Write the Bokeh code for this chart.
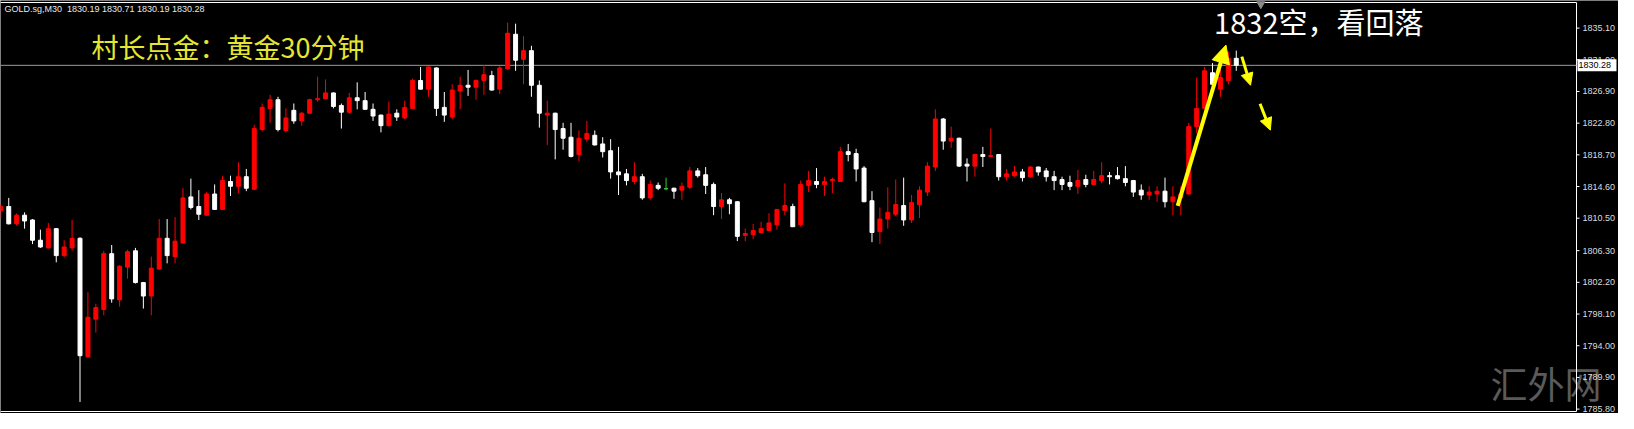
from bokeh.plotting import figure
from bokeh.models import Range1d, Label, Arrow, NormalHead, ColumnDataSource
from bokeh.core.properties import value
from bokeh.embed import file_html
from bokeh.resources import INLINE

# ---------------- data (GOLD.sg M30) ----------------
opens = [
    1811.51, 1812.01, 1809.77, 1810.89, 1810.27, 1807.65, 1806.66, 1809.15, 1805.66, 1806.66,
    1807.90, 1792.58, 1797.44, 1798.69, 1805.91, 1799.93, 1804.17, 1806.28, 1802.17, 1800.43,
    1803.92, 1807.90, 1805.54, 1807.28, 1813.26, 1812.01, 1810.89, 1813.63, 1811.64, 1815.25,
    1814.63, 1815.87, 1814.25, 1821.97, 1824.71, 1825.83, 1821.85, 1824.46, 1823.09, 1824.09,
    1825.83, 1825.96, 1826.71, 1825.09, 1824.22, 1826.08, 1825.71, 1824.59, 1823.84, 1822.47,
    1824.09, 1823.47, 1824.71, 1828.32, 1827.20, 1829.94, 1824.84, 1823.59, 1826.95, 1827.70,
    1827.45, 1828.32, 1828.95, 1827.20, 1829.82, 1834.30, 1831.06, 1832.18, 1827.70, 1823.84,
    1824.09, 1822.10, 1820.98, 1818.74, 1820.73, 1821.23, 1820.11, 1819.23, 1816.49, 1816.24,
    1815.25, 1815.87, 1813.13, 1814.75, 1814.31, 1814.38, 1814.13, 1814.50, 1816.62, 1816.12,
    1814.87, 1812.01, 1812.88, 1812.63, 1808.28, 1808.40, 1808.65, 1808.90, 1809.65, 1811.51,
    1812.01, 1809.65, 1814.75, 1815.25, 1814.87, 1815.37, 1815.25, 1819.11, 1818.86, 1816.99,
    1812.76, 1808.77, 1810.39, 1811.01, 1812.14, 1810.27, 1812.26, 1813.88, 1817.12, 1823.34,
    1820.48, 1820.85, 1817.49, 1817.24, 1818.74, 1818.49, 1818.74, 1815.87, 1816.00, 1816.49,
    1815.87, 1817.12, 1816.62, 1815.87, 1815.50, 1815.12, 1814.63, 1815.50, 1814.87, 1815.37,
    1816.00, 1816.00, 1815.62, 1815.37, 1814.13, 1813.50, 1813.63, 1814.00, 1812.63, 1813.13,
    1813.63, 1822.35, 1824.71, 1829.32, 1827.20, 1828.32, 1831.19,
]
highs = [
    1812.38, 1813.13, 1811.14, 1811.26, 1810.39, 1809.02, 1809.89, 1809.20, 1807.65, 1810.27,
    1808.03, 1800.93, 1799.43, 1806.28, 1807.03, 1804.41, 1806.41, 1806.66, 1802.25, 1805.54,
    1810.39, 1810.39, 1810.64, 1814.38, 1815.62, 1814.13, 1813.88, 1814.87, 1816.00, 1816.00,
    1817.74, 1816.87, 1822.60, 1825.34, 1826.46, 1826.21, 1824.71, 1825.34, 1824.22, 1825.96,
    1828.82, 1828.45, 1826.78, 1825.34, 1826.71, 1828.08, 1826.83, 1825.34, 1823.90, 1825.58,
    1824.59, 1825.71, 1828.57, 1830.07, 1830.15, 1830.00, 1826.83, 1827.83, 1828.82, 1829.69,
    1828.45, 1830.32, 1829.57, 1830.19, 1835.80, 1835.67, 1834.05, 1832.81, 1828.32, 1825.71,
    1824.15, 1822.84, 1822.84, 1821.85, 1823.09, 1821.85, 1820.98, 1820.73, 1819.73, 1816.87,
    1817.74, 1816.24, 1815.37, 1815.12, 1815.75, 1814.45, 1815.12, 1817.12, 1816.99, 1817.12,
    1815.12, 1813.75, 1813.13, 1812.70, 1809.15, 1809.77, 1810.02, 1811.14, 1811.70, 1815.00,
    1812.38, 1815.37, 1816.62, 1816.99, 1815.87, 1815.75, 1819.73, 1820.11, 1819.48, 1817.24,
    1814.00, 1811.89, 1814.50, 1815.50, 1815.75, 1813.50, 1814.63, 1817.74, 1824.59, 1823.47,
    1822.35, 1820.92, 1818.24, 1818.86, 1819.73, 1822.10, 1818.80, 1816.87, 1817.24, 1816.87,
    1817.24, 1817.18, 1816.99, 1816.62, 1815.87, 1816.00, 1816.74, 1816.12, 1816.62, 1817.74,
    1816.49, 1817.12, 1817.24, 1815.45, 1814.87, 1814.63, 1814.63, 1815.75, 1814.63, 1814.63,
    1822.84, 1828.70, 1830.07, 1830.57, 1829.69, 1832.06, 1832.18,
]
lows = [
    1810.52, 1809.70, 1809.52, 1809.15, 1807.15, 1806.66, 1806.60, 1804.79, 1805.41, 1806.28,
    1786.73, 1792.50, 1795.70, 1797.94, 1799.56, 1799.06, 1802.67, 1802.05, 1798.81, 1797.94,
    1803.85, 1804.66, 1804.66, 1807.20, 1811.64, 1810.27, 1810.82, 1811.58, 1811.58, 1813.38,
    1813.75, 1814.00, 1814.20, 1821.72, 1822.84, 1821.72, 1821.60, 1822.72, 1822.47, 1824.02,
    1825.58, 1825.90, 1824.71, 1822.10, 1823.97, 1824.59, 1824.52, 1823.09, 1821.60, 1822.40,
    1823.09, 1823.34, 1824.65, 1827.15, 1826.21, 1823.72, 1822.97, 1823.34, 1824.59, 1826.33,
    1825.83, 1826.46, 1827.00, 1826.58, 1829.75, 1829.57, 1827.83, 1826.21, 1822.22, 1819.98,
    1818.11, 1819.36, 1818.36, 1817.86, 1820.35, 1819.90, 1818.36, 1815.62, 1813.50, 1814.75,
    1814.87, 1812.88, 1812.88, 1814.13, 1814.13, 1813.01, 1812.88, 1814.25, 1815.75, 1813.63,
    1810.89, 1810.39, 1811.01, 1807.53, 1807.53, 1807.78, 1808.52, 1808.85, 1809.02, 1810.89,
    1809.35, 1809.40, 1813.88, 1814.38, 1813.38, 1813.75, 1815.20, 1817.86, 1815.25, 1812.57,
    1807.40, 1807.15, 1809.15, 1810.77, 1809.52, 1809.89, 1810.52, 1813.38, 1816.62, 1819.36,
    1819.61, 1817.12, 1815.25, 1815.87, 1817.12, 1818.44, 1815.37, 1815.37, 1815.87, 1815.25,
    1815.75, 1816.00, 1815.25, 1814.13, 1814.13, 1814.13, 1813.63, 1814.50, 1814.80, 1815.00,
    1814.87, 1815.50, 1814.63, 1813.26, 1812.88, 1812.88, 1812.63, 1811.89, 1810.89, 1810.89,
    1813.55, 1821.47, 1824.65, 1827.45, 1826.21, 1827.83, 1829.57,
]
closes = [
    1812.01, 1809.77, 1810.89, 1810.14, 1807.65, 1806.78, 1809.15, 1805.66, 1806.78, 1807.90,
    1792.71, 1797.69, 1798.94, 1805.91, 1800.06, 1804.29, 1806.16, 1802.17, 1800.43, 1804.04,
    1807.90, 1805.66, 1807.53, 1813.13, 1811.89, 1811.01, 1813.63, 1811.64, 1815.37, 1814.63,
    1815.87, 1814.38, 1822.10, 1824.84, 1825.83, 1821.97, 1823.47, 1823.09, 1824.09, 1825.83,
    1825.96, 1826.71, 1824.96, 1824.22, 1826.08, 1825.71, 1824.59, 1823.72, 1822.47, 1823.97,
    1823.59, 1824.84, 1828.32, 1827.20, 1830.07, 1824.71, 1823.84, 1827.08, 1827.70, 1827.45,
    1828.32, 1829.07, 1827.08, 1829.94, 1834.43, 1830.94, 1832.18, 1827.70, 1824.09, 1824.09,
    1821.97, 1820.85, 1818.49, 1820.85, 1821.47, 1819.98, 1819.11, 1816.49, 1816.12, 1815.37,
    1815.87, 1813.13, 1814.87, 1814.38, 1814.31, 1814.00, 1814.63, 1816.62, 1816.00, 1814.75,
    1812.01, 1812.88, 1812.38, 1808.15, 1808.52, 1808.90, 1809.15, 1809.89, 1811.64, 1812.14,
    1809.40, 1814.87, 1815.37, 1814.87, 1815.25, 1815.50, 1819.11, 1818.74, 1816.87, 1812.63,
    1808.65, 1810.39, 1811.26, 1812.26, 1810.27, 1812.51, 1814.13, 1817.24, 1823.34, 1820.48,
    1820.85, 1817.24, 1817.24, 1818.74, 1818.49, 1818.61, 1815.87, 1816.24, 1816.49, 1815.75,
    1817.12, 1816.49, 1815.87, 1815.37, 1814.87, 1814.63, 1815.37, 1814.87, 1815.50, 1816.00,
    1815.87, 1815.62, 1815.12, 1813.88, 1813.50, 1813.88, 1814.00, 1812.63, 1813.26, 1813.63,
    1822.35, 1824.71, 1829.57, 1827.83, 1828.70, 1831.19, 1830.28,
]

# price-scale tick labels (MT4 style)
tick_values = [1835.10, 1831.00, 1826.90, 1822.80, 1818.70, 1814.60, 1810.50,
               1806.30, 1802.20, 1798.10, 1794.00, 1789.90, 1785.80]

header_text = "GOLD.sg,M30 \u00a01830.19 1830.71 1830.19 1830.28"
title_text = "村长点金：黄金30分钟"
note_text = "1832空，看回落"
watermark_text = "汇外网"

# drawn arrows (bar index, price)
arrow_x0 = [148.6, 156.7, 159.0]
arrow_y0 = [1812.1, 1831.4, 1825.3]
arrow_x1 = [154.7, 157.8, 160.3]
arrow_y1 = [1832.9, 1827.7, 1821.9]

# ---------------- styling / layout ----------------
BULL, BEAR, DOJI = "#ff0000", "#ffffff", "#33cc33"
last_close = closes[-1]

W, H = 1618, 413
CHART_W = 1576                 # width of the candle area, scale panel to its right
X0, X1 = -0.04, 198.96         # bar-index span of the candle area
Y0, Y1 = 1785.49, 1838.41      # price span between the top and bottom border lines
ppx = CHART_W / (X1 - X0)      # pixels per bar
ppu = (H - 4) / (Y1 - Y0)      # pixels per price unit
pad = 2 / ppu
XE = X0 + W / ppx

idx = list(range(len(opens)))
colors = [BULL if c > o else (BEAR if c < o else DOJI) for o, c in zip(opens, closes)]
tops = [max(o, c) for o, c in zip(opens, closes)]
bottoms = [min(o, c) for o, c in zip(opens, closes)]
src = ColumnDataSource(dict(x=idx, h=highs, l=lows, top=tops, bottom=bottoms, color=colors))

p = figure(width=W, height=H, output_backend="svg", toolbar_location=None,
           x_range=Range1d(X0, XE), y_range=Range1d(Y0 - pad, Y1 + pad),
           x_axis_location=None, y_axis_location=None,
           background_fill_color="black", border_fill_color="black",
           min_border_left=0, min_border_right=0, min_border_top=0, min_border_bottom=0,
           outline_line_color=None)
p.grid.visible = False

# watermark (behind everything)
p.text(x=[188.1], y=[1789.22], text=[watermark_text], text_color="#5a5a5a",
       text_font=value("Noto Sans CJK SC"), text_font_size="37px",
       text_baseline="middle", text_align="left")

# chart borders (top, bottom, right)
p.segment(x0=[X0, X0, X1], y0=[Y1, Y0, Y0], x1=[X1, X1, X1], y1=[Y1, Y0, Y1],
          line_color="white", line_width=1)

# current price line
p.segment(x0=[X0], y0=[last_close], x1=[X1], y1=[last_close], line_color="#9a9a9a", line_width=1)

# candles
p.segment(x0="x", y0="h", x1="x", y1="l", line_color="color", line_width=1, source=src)
p.vbar(x="x", top="top", bottom="bottom", width=0.5, fill_color="color",
       line_color="color", line_width=1, source=src)

# arrows
for i in range(len(arrow_x0)):
    big = (i == 0)
    p.add_layout(Arrow(end=NormalHead(size=18 if big else 12, fill_color="#ffff00",
                                      line_color="#ffff00"),
                       x_start=arrow_x0[i], y_start=arrow_y0[i],
                       x_end=arrow_x1[i], y_end=arrow_y1[i],
                       line_color="#ffff00", line_width=4 if big else 3))

# grey shift marker at top
p.scatter(x=[159.1], y=[Y1 - 0.2], marker="inverted_triangle", size=8,
          fill_color="#8a8a8a", line_color="#8a8a8a")

# texts
p.add_layout(Label(x=0.46, y=1837.55, text=header_text, text_color="#e8e8e8",
                   text_font="Liberation Sans", text_font_size="9px",
                   text_baseline="middle", text_align="left"))
p.add_layout(Label(x=11.46, y=1832.68, text=title_text, text_color="#e6e632",
                   text_font="Noto Sans CJK SC", text_font_size="27px",
                   text_baseline="middle", text_align="left"))
p.add_layout(Label(x=153.2, y=1835.98, text=note_text, text_color="#ffffff",
                   text_font="Noto Sans CJK SC", text_font_size="29px",
                   text_baseline="middle", text_align="left"))

# ---------------- price scale ----------------
n = len(tick_values)
tick_src = ColumnDataSource(dict(y=tick_values, lab=["%.2f" % v for v in tick_values],
                                 x0=[X1] * n, x1=[X1 + 3 / ppx] * n, xl=[X1 + 6 / ppx] * n))
p.segment(x0="x0", y0="y", x1="x1", y1="y", line_color="white", line_width=1, source=tick_src)
p.text(x="xl", y="y", text="lab", text_color="#dddddd", text_font=value("Liberation Sans"),
       text_font_size="9px", text_baseline="middle", text_align="left", source=tick_src)

# current price tag
p.rect(x=[X1 + 20.5 / ppx], y=[last_close], width=[39 / ppx], height=[12], height_units="screen",
       fill_color="white", line_color=None)
p.text(x=[X1 + 2 / ppx], y=[last_close], text=["%.2f" % last_close], text_color="black",
       text_font=value("Liberation Sans"), text_font_size="9px",
       text_baseline="middle", text_align="left")

open("out.html", "w").write(file_html(p, INLINE))
